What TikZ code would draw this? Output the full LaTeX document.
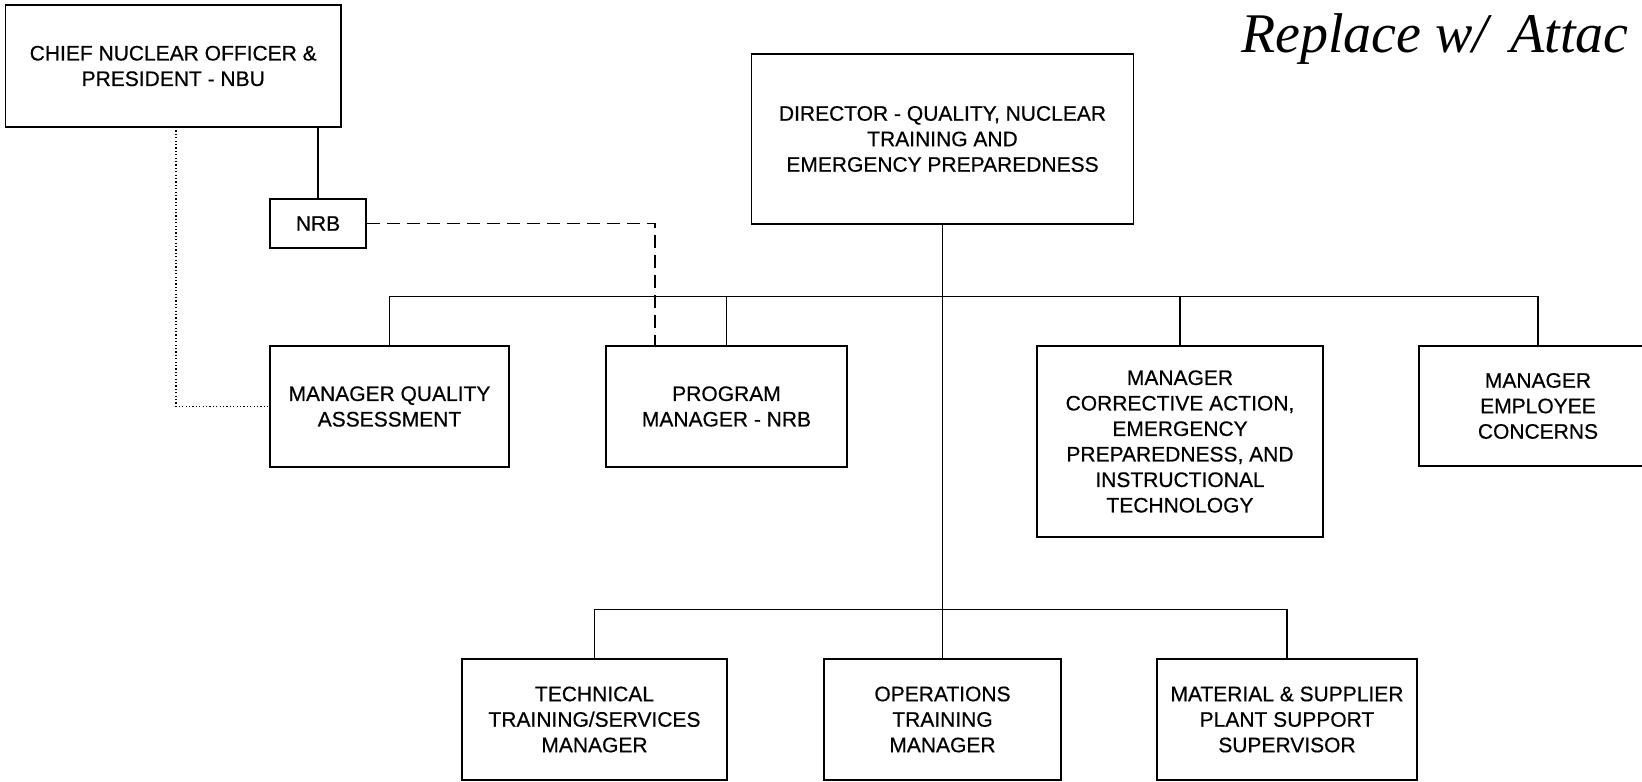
\documentclass[tikz,border=0pt]{standalone}
\usepackage{fontspec}
\setmainfont{Liberation Sans}
\newfontfamily\boxfont{Liberation Sans}[FakeBold=0.5]
\newfontfamily\handfont{Liberation Serif}
\begin{document}
\begin{tikzpicture}[x=1pt,y=-1pt,
  orgbox/.style={draw=black, line width=1.5pt, rectangle, inner sep=0pt,
    align=center, font=\boxfont\fontsize{21}{25.5}\selectfont},
  link/.style={draw=black, line width=1.5pt},
  dashlink/.style={draw=black, line width=1.9pt, dash pattern=on 13pt off 7pt},
  dotlink/.style={draw=black, line width=1.1pt, dash pattern=on 1.2pt off 2.2pt}]
\useasboundingbox (0,0) rectangle (1642,782);

% boxes
\node[orgbox, minimum width=335.5pt, minimum height=122pt] (chief) at (173.25,66)
  {CHIEF NUCLEAR OFFICER \&\\PRESIDENT - NBU};
\node[orgbox, minimum width=96pt, minimum height=49pt] (nrb) at (318,223.5) {NRB};
\node[orgbox, minimum width=382pt, minimum height=170pt] (director) at (942.5,139)
  {DIRECTOR - QUALITY, NUCLEAR\\TRAINING AND\\EMERGENCY PREPAREDNESS};
\node[orgbox, minimum width=239pt, minimum height=121pt] (quality) at (389.5,406.5)
  {MANAGER QUALITY\\ASSESSMENT};
\node[orgbox, minimum width=241pt, minimum height=121pt] (program) at (726.5,406.5)
  {PROGRAM\\MANAGER - NRB};
\node[orgbox, minimum width=286pt, minimum height=191pt] (corrective) at (1180,441.5)
  {MANAGER\\CORRECTIVE ACTION,\\EMERGENCY\\PREPAREDNESS, AND\\INSTRUCTIONAL\\TECHNOLOGY};
\node[orgbox, minimum width=238pt, minimum height=120pt] (employee) at (1538,406)
  {MANAGER\\EMPLOYEE\\CONCERNS};
\node[orgbox, minimum width=265pt, minimum height=121pt] (tech) at (594.5,719.5)
  {TECHNICAL\\TRAINING/SERVICES\\MANAGER};
\node[orgbox, minimum width=237pt, minimum height=121pt] (ops) at (942.5,719.5)
  {OPERATIONS\\TRAINING\\MANAGER};
\node[orgbox, minimum width=260pt, minimum height=121pt] (material) at (1287,719.5)
  {MATERIAL \& SUPPLIER\\PLANT SUPPORT\\SUPERVISOR};

% handwritten note
\node[anchor=base west, inner sep=0pt, font=\handfont\itshape\fontsize{56}{60}\selectfont]
  (note) at (1241,52) {Replace\hspace{14pt}w/\hspace{22pt}Attac};

% bus levels and line taps
\coordinate (ubus) at (942.5,296.5);
\coordinate (lbus) at (942.5,609.5);
\coordinate (dtop) at (176,127);
\coordinate (ptap) at (655,346);

% solid reporting lines
\draw[link] (chief.south -| nrb.north) -- (nrb.north);
\draw[link] (director.south) -- (ops.north);
\draw[link] (quality.north) -- (quality.north |- ubus) -- (employee.north |- ubus) -- (employee.north);
\draw[link] (program.north) -- (program.north |- ubus);
\draw[link] (corrective.north) -- (corrective.north |- ubus);
\draw[link] (tech.north) -- (tech.north |- lbus) -- (material.north |- lbus) -- (material.north);

% dotted and dashed lines
\draw[dotlink] (dtop) |- (quality.west);
\draw[dashlink] (nrb.east) -| (ptap);
\end{tikzpicture}
\end{document}
